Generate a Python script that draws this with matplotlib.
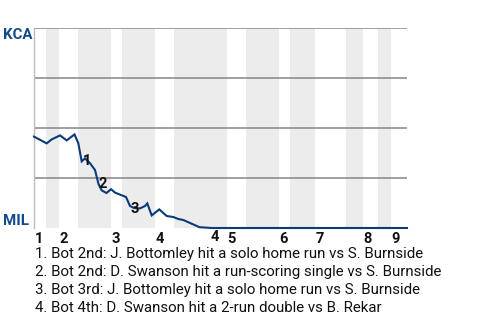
import matplotlib
matplotlib.use("Agg")
import matplotlib.pyplot as plt
from matplotlib.patches import Rectangle
import matplotlib.transforms as mtrans

# ---- data (x = game progress units, p = KCA win probability %) ----
half_inning_starts = [0, 12, 25, 44, 77, 88, 121, 140, 193, 212, 245, 256, 281, 312, 329, 344, 357]
game_end = 373
inning_labels = ["1", "2", "3", "4", "5", "6", "7", "8", "9"]

prog = [0, 12.7, 17.7, 26, 32.7, 40.5, 44.3, 47.7, 51, 56, 61, 64.5, 67.7, 72.5, 77, 81,
        89.5, 92, 96, 100, 106, 111, 113.3, 117.7, 125.3, 132.7, 139.3, 144.3, 149.3,
        165.5, 177.7, 373]
kca_wp = [45.7, 42.3, 44.3, 46.3, 43.8, 46.8, 42.4, 33.3, 34.8, 32.4, 29, 22, 18.8, 17.5, 19.4, 17.7,
          16, 15.5, 11, 10, 9.8, 11, 12.3, 6.3, 9.3, 6, 5.5, 4.5, 4,
          0.4, 0, 0]

event_ids = ["1", "2", "3", "4"]
event_x = [53, 69, 101, 181]
event_p = [33.5, 22, 9.5, -4.5]
event_text = [
    "1. Bot 2nd: J. Bottomley hit a solo home run vs S. Burnside",
    "2. Bot 2nd: D. Swanson hit a run-scoring single vs S. Burnside",
    "3. Bot 3rd: J. Bottomley hit a solo home run vs S. Burnside",
    "4. Bot 4th: D. Swanson hit a 2-run double vs B. Rekar",
]
team_top = "KCA"
team_bottom = "MIL"

# ---- style ----
plt.rcParams['font.family'] = ['Roboto', 'DejaVu Sans']
W, H = 480, 320
fig = plt.figure(figsize=(W / 100, H / 100), dpi=100)
ax = fig.add_axes([34 / W, 1 - 228 / H, (407 - 34) / W, 200 / H])
ax.set_xlim(0, game_end)
ax.set_ylim(0, 100)

band_color = "#ececec"
bounds = half_inning_starts + [game_end]
for i in range(1, len(half_inning_starts), 2):
    x0, x1 = bounds[i], bounds[i + 1]
    ax.add_patch(Rectangle((x0, 0), x1 - x0, 100, facecolor=band_color, edgecolor="none", zorder=0))

for g in [25, 50, 75, 100]:
    ax.axhline(g, color="#858585", lw=1.1, zorder=1)

for s in ["top", "right", "bottom"]:
    ax.spines[s].set_visible(False)
ax.spines["left"].set_color("#bdbdbd")
ax.spines["left"].set_linewidth(1.0)
ax.set_xticks([])
ax.set_yticks([])

ax.plot(prog, kca_wp, color="#0b3b78", lw=1.5, zorder=3, clip_on=False, solid_joinstyle="miter")

# event markers
for lab, ex, ep in zip(event_ids, event_x, event_p):
    ax.text(ex, ep, lab, ha="center", va="center", fontsize=10.5, fontweight="bold", color="#111111",
            zorder=4, clip_on=False)

# inning labels
trans = mtrans.blended_transform_factory(ax.transData, fig.transFigure)
for lab, x in zip(inning_labels, half_inning_starts[0::2]):
    ax.text(x + 0.5, 1 - 239 / H, lab, transform=trans, ha="left", va="center", fontsize=10.5,
            fontweight="bold", color="#111111")

# team labels
team_color = "#114a8b"
fig.text(3 / W, 1 - 35 / H, team_top, ha="left", va="center", fontsize=10.8, fontweight="bold", color=team_color)
fig.text(3 / W, 1 - 221 / H, team_bottom, ha="left", va="center", fontsize=10.8, fontweight="bold", color=team_color)

# footnotes
for i, t in enumerate(event_text):
    fig.text(35 / W, 1 - (254 + 18 * i) / H, t, ha="left", va="center", fontsize=10.8, color="#111111")

fig.savefig("out.png", dpi=100)
